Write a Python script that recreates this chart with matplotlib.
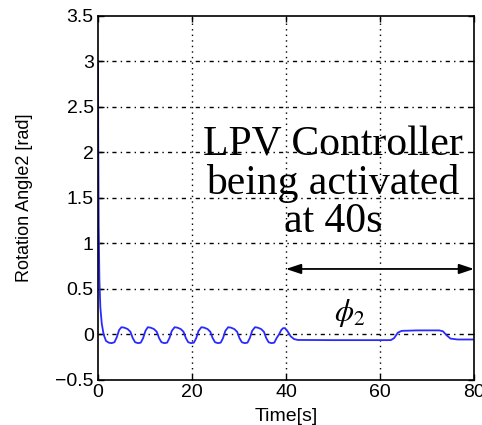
import matplotlib.pyplot as plt
import numpy as np

# time [s] and rotation angle 2 [rad]
time = [0, 0.05, 0.15, 0.3, 0.5, 0.8, 1.2, 1.7, 2.3, 2.9, 3.5, 4.0, 4.5,
        5.0, 5.6, 6.3, 6.9, 7.4, 7.9, 8.5, 9.1, 9.6, 10.1,
        10.6, 11.2, 11.9, 12.5, 13.0, 13.5, 14.1, 14.7, 15.2, 15.7,
        16.3, 16.9, 17.6, 18.2, 18.7, 19.2, 19.8, 20.4, 20.9, 21.4,
        22.0, 22.6, 23.3, 23.9, 24.4, 24.9, 25.5, 26.1, 26.6, 27.1,
        27.7, 28.3, 29.0, 29.6, 30.1, 30.6, 31.2, 31.8, 32.3, 32.8,
        33.4, 34.0, 34.7, 35.3, 35.8, 36.3, 36.9, 37.5, 38.0, 38.5,
        39.0, 39.4, 39.8, 40.4, 41.0, 41.7, 42.5, 50, 62.3, 63.0,
        63.8, 64.6, 68, 72.6, 73.4, 74.2, 75.0, 76.5, 80]
angle = [3.0, 2.2, 1.2, 0.6, 0.3, 0.12, 0.0, -0.07, -0.09, -0.095, -0.085, -0.03, 0.05,
         0.08, 0.075, 0.06, 0.03, -0.04, -0.085, -0.095, -0.09, -0.04, 0.04,
         0.08, 0.075, 0.06, 0.03, -0.04, -0.085, -0.095, -0.09, -0.04, 0.04,
         0.08, 0.075, 0.06, 0.03, -0.04, -0.085, -0.095, -0.09, -0.04, 0.04,
         0.08, 0.075, 0.06, 0.03, -0.04, -0.085, -0.095, -0.09, -0.04, 0.04,
         0.08, 0.075, 0.06, 0.03, -0.04, -0.085, -0.095, -0.09, -0.04, 0.04,
         0.08, 0.075, 0.06, 0.03, -0.04, -0.085, -0.095, -0.09, -0.04, 0.0,
         0.05, 0.07, 0.07, 0.03, -0.02, -0.05, -0.06, -0.062, -0.062, -0.04,
         0.02, 0.04, 0.045, 0.045, 0.035, -0.01, -0.045, -0.055, -0.055]

xticks = [0, 20, 40, 60, 80]
yticks = [-0.5, 0, 0.5, 1, 1.5, 2, 2.5, 3, 3.5]
ytick_labels = ["\u22120.5", "0", "0.5", "1", "1.5", "2", "2.5", "3", "3.5"]

fig = plt.figure(figsize=(4.82, 4.25), dpi=100)
ax = fig.add_axes([0.2033, 0.1059, 0.7801, 0.8565])

ax.plot(time, angle, color="#2a2aff", lw=1.3)

ax.set_xlim(0, 80)
ax.set_ylim(-0.5, 3.5)
ax.set_xticks(xticks)
ax.set_yticks(yticks)
ax.set_yticklabels(ytick_labels)
ax.tick_params(direction="in", length=4, width=1, top=True, right=True,
               labelsize=14, pad=3, colors="black")
for lab in ax.get_xticklabels() + ax.get_yticklabels():
    lab.set_fontfamily("Liberation Sans")

# grid: dotted verticals, dash-dot horizontals (MATLAB look)
for x in xticks[1:-1]:
    ax.axvline(x, color="black", lw=1, ls=(0, (1, 3)), zorder=0)
for y in yticks[1:-1]:
    ax.axhline(y, color="black", lw=1, ls=(0, (3, 3, 1, 3)), zorder=0)

for s in ax.spines.values():
    s.set_linewidth(1.2)

ax.set_xlabel("Time[s]", fontsize=14, family="Liberation Sans", labelpad=5)
ax.set_ylabel("Rotation Angle2 [rad]", fontsize=13, family="Liberation Sans", labelpad=16)

ax.text(50, 1.66, "LPV Controller\nbeing activated\nat 40s", family="Liberation Serif",
        fontsize=30, ha="center", va="center", linespacing=0.97, clip_on=False)

ax.annotate("", xy=(40, 0.72), xytext=(80, 0.72),
            arrowprops=dict(arrowstyle="<|-|>,head_length=0.9,head_width=0.3",
                            color="black", lw=1.3, shrinkA=0, shrinkB=0))

ax.text(53.6, 0.24, r"$\phi_2$", fontsize=22, ha="center", va="center",
        math_fontfamily="stix")

fig.savefig("out.png", dpi=100)
